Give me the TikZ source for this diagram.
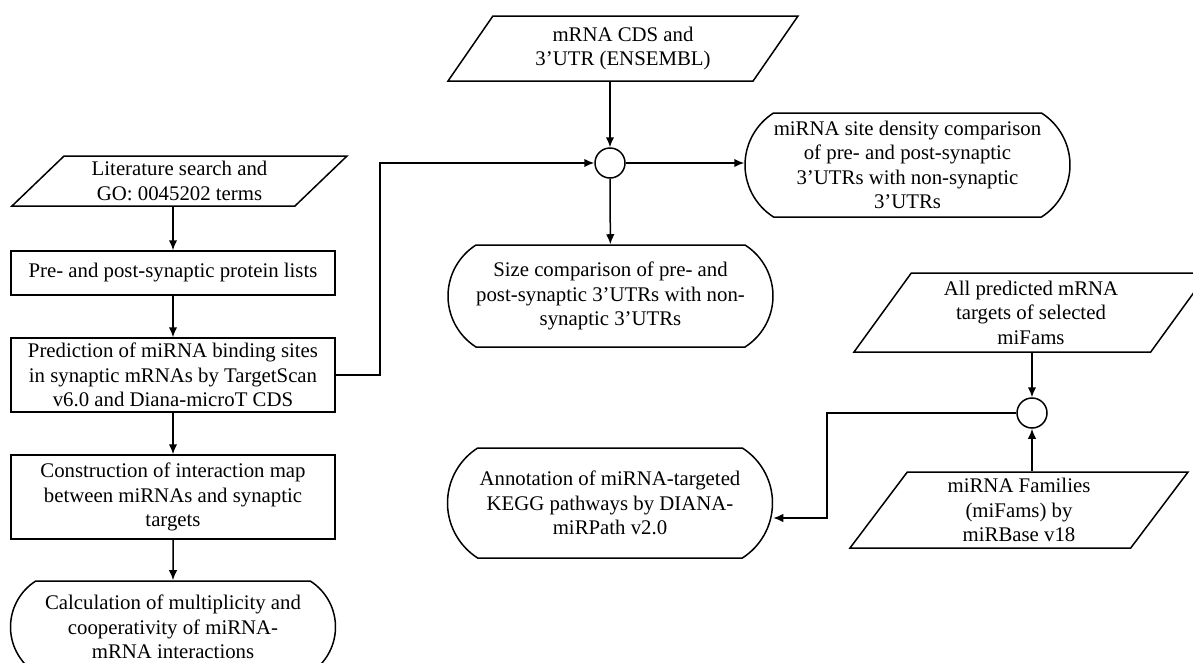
\documentclass[tikz,border=0pt]{standalone}
\usepackage{fontspec}
\setmainfont{Liberation Serif}
\usetikzlibrary{shapes.geometric,shapes.misc}
\usetikzlibrary{arrows.meta}

\begin{document}
\begin{tikzpicture}[x=1pt,y=-1pt,>={Latex[length=10pt,width=8.5pt]},line width=1.5pt,
	every node/.style={font=\fontsize{20.8}{24.5}\selectfont,align=center,inner sep=0pt},
	dataio/.style={draw,trapezium,trapezium stretches body},
	procbox/.style={draw,rectangle,minimum width=324pt},
	termbox/.style={draw,rounded rectangle,rounded rectangle arc length=115,minimum width=325pt},
	joint/.style={draw,circle,minimum size=30pt}]
	\useasboundingbox (0,0) rectangle (1193,662);
	% left column
	\node[dataio,trapezium left angle=37,trapezium right angle=143,minimum width=335pt,minimum height=50pt] (lit) at (179.5,181) {Literature search and\\GO: 0045202 terms};
	\node[procbox,minimum height=44pt] (lists) at (173,273) {Pre- and post-synaptic protein lists};
	\node[procbox,minimum height=74pt] (pred) at (173,375) {Prediction of miRNA binding sites\\in synaptic mRNAs by TargetScan\\v6.0 and Diana-microT CDS};
	\node[procbox,minimum height=84pt] (cons) at (173,497) {Construction of interaction map\\between miRNAs and synaptic\\targets};
	\node[termbox,minimum height=92pt] (calc) at (173,627) {Calculation of multiplicity and\\cooperativity of miRNA-\\mRNA interactions};
	% middle
	\node[dataio,trapezium left angle=44,trapezium right angle=136,minimum width=350pt,minimum height=65pt] (cds) at (623,48.5) {mRNA CDS and\\3’UTR (ENSEMBL)};
	\node[joint] (c1) at (610,163) {};
	\node[termbox,minimum height=104pt] (dens) at (907.5,165) {miRNA site density comparison\\of pre- and post-synaptic\\3’UTRs with non-synaptic\\3’UTRs};
	\node[termbox,minimum height=102pt] (size) at (610.5,296) {Size comparison of pre- and\\post-synaptic 3’UTRs with non-\\synaptic 3’UTRs};
	% right
	\node[dataio,trapezium left angle=48,trapezium right angle=132,minimum width=354pt,minimum height=79pt] (pmt) at (1031,312.5) {All predicted mRNA\\targets of selected\\miFams};
	\node[joint] (c2) at (1032,413) {};
	\node[dataio,trapezium left angle=48,trapezium right angle=132,minimum width=338pt,minimum height=76pt] (fam) at (1019,510) {miRNA Families\\(miFams) by\\miRBase v18};
	\node[termbox,minimum height=110pt] (annot) at (610,503) {Annotation of miRNA-targeted\\KEGG pathways by DIANA-\\miRPath v2.0};
	\coordinate (fb) at (380,163);
	\coordinate (bend) at (827,518);
	% arrows
	\draw[->] (lists.north |- lit.south) -- (lists.north);
	\draw[->] (lists) -- (pred);
	\draw[->] (pred) -- (cons);
	\draw[->] (cons) -- (calc);
	\draw[->] (pred.east) -| (fb) -- (c1.west);
	\draw[->] (c1 |- cds.south) -- (c1.north);
	\draw[->] (c1.east) -- (dens.west |- c1);
	\draw[->] (c1) -- (size);
	\draw[->] (c2 |- pmt.south) -- (c2.north);
	\draw[->] (c2 |- fam.north) -- (c2.south);
	\draw[->] (c2.west) -| (bend) -- (annot.east |- bend);
\end{tikzpicture}
\end{document}
